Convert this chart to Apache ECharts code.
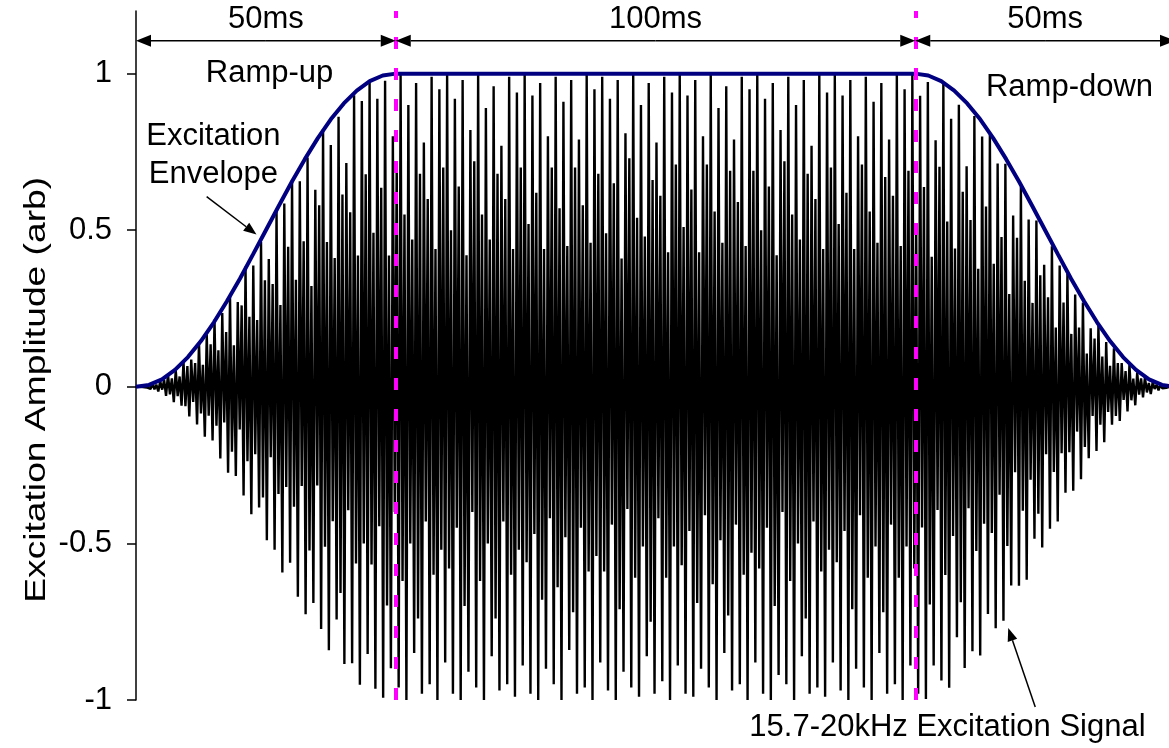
<!DOCTYPE html>
<html>
<head>
<meta charset="utf-8">
<title>Excitation signal</title>
<script src="https://cdn.jsdelivr.net/npm/echarts@6/dist/echarts.min.js"></script>
<style>
  html, body { margin: 0; padding: 0; background: #fff; }
  #main { width: 1169px; height: 748px; }
</style>
</head>
<body>
<div id="main"></div>
<script>
// time span edges (ms) and their labels
var spanEdges = [0, 50, 150, 200];
var spanLabels = ['50ms', '100ms', '50ms'];

// excitation envelope
var envTimes = [0, 2.5, 5, 7.5, 10, 12.5, 15, 17.5, 20, 22.5, 25, 27.5, 30, 32.5, 35, 37.5, 40, 42.5, 45, 47.5, 50,
  150, 152.5, 155, 157.5, 160, 162.5, 165, 167.5, 170, 172.5, 175, 177.5, 180, 182.5, 185, 187.5, 190, 192.5, 195, 197.5, 200];
var envValues = [0, 0.006, 0.024, 0.054, 0.095, 0.146, 0.206, 0.273, 0.345, 0.422, 0.5, 0.578, 0.655, 0.727, 0.794, 0.854, 0.905, 0.946, 0.976, 0.994, 1,
  1, 0.994, 0.976, 0.946, 0.905, 0.854, 0.794, 0.727, 0.655, 0.578, 0.5, 0.422, 0.345, 0.273, 0.206, 0.146, 0.095, 0.054, 0.024, 0.006, 0];

// excitation signal, 134 cycles over 200 ms, four samples each:
// high peak, the dip after it, the partial rise, low peak
var peakTop = [
  0.000, 0.003, 0.011, 0.018, 0.039, 0.053, 0.081, 0.087, 0.141, 0.168,
  0.214, 0.236, 0.289, 0.271, 0.384, 0.387, 0.462, 0.408, 0.565, 0.585,
  0.661, 0.656, 0.732, 0.629, 0.823, 0.772, 0.862, 0.715, 0.931, 0.913,
  0.977, 0.920, 0.977, 0.800,
  1.00, 0.90, 0.97, 0.78, 0.99, 0.95,
  1.00, 0.92, 0.98, 0.82, 1.00, 0.89, 0.96, 0.77, 0.99, 0.94,
  1.00, 0.93, 0.97, 0.80, 0.99, 0.91, 0.98, 0.79, 1.00, 0.95,
  0.99, 0.92, 0.98, 0.81, 1.00, 0.90, 0.97, 0.78, 0.99, 0.94,
  1.00, 0.93, 0.98, 0.80, 1.00, 0.89, 0.96, 0.79, 0.99, 0.95,
  1.00, 0.92, 0.97, 0.82, 0.99, 0.90, 0.98, 0.77, 1.00, 0.94,
  1.00, 0.93, 0.98, 0.80, 0.99, 0.91, 0.97, 0.79, 1.00, 0.95,
  1.00,
  0.929, 0.973, 0.787, 0.969, 0.856, 0.901, 0.704, 0.865, 0.799,
  0.805, 0.713, 0.712, 0.547, 0.639, 0.534, 0.531, 0.390, 0.449, 0.387,
  0.361, 0.295, 0.269, 0.187, 0.195, 0.143, 0.123, 0.076, 0.070, 0.046,
  0.031, 0.015, 0.007, 0.001
];
var midFall = [
  -0.000, -0.002, -0.008, -0.009, -0.024, -0.030, -0.062, -0.048, -0.085, -0.092,
  -0.124, -0.114, -0.207, -0.136, -0.238, -0.215, -0.353, -0.225, -0.342, -0.320,
  -0.383, -0.317, -0.523, -0.315, -0.511, -0.429, -0.658, -0.394, -0.564, -0.500,
  -0.567, -0.445, -0.698, -0.400,
  -0.62, -0.50, -0.74, -0.43, -0.60, -0.52,
  -0.58, -0.45, -0.70, -0.40, -0.62, -0.50, -0.74, -0.43, -0.60, -0.52,
  -0.56, -0.47, -0.68, -0.42, -0.64, -0.48, -0.72, -0.45, -0.59, -0.54,
  -0.59, -0.44, -0.71, -0.39, -0.61, -0.51, -0.75, -0.42, -0.61, -0.51,
  -0.57, -0.46, -0.69, -0.41, -0.63, -0.49, -0.73, -0.44, -0.60, -0.53,
  -0.58, -0.45, -0.70, -0.40, -0.62, -0.50, -0.74, -0.43, -0.59, -0.52,
  -0.56, -0.46, -0.71, -0.41, -0.61, -0.51, -0.72, -0.44, -0.61, -0.51,
  -0.58,
  -0.449, -0.695, -0.393, -0.601, -0.476, -0.688, -0.388, -0.524, -0.437,
  -0.467, -0.345, -0.508, -0.273, -0.396, -0.297, -0.405, -0.215, -0.272, -0.212,
  -0.209, -0.143, -0.192, -0.093, -0.121, -0.080, -0.093, -0.042, -0.043, -0.025,
  -0.018, -0.007, -0.005, -0.000
];
var midRise = [
  0.001, 0.004, 0.007, 0.022, 0.027, 0.033, 0.066, 0.076, 0.070, 0.136,
  0.117, 0.175, 0.133, 0.260, 0.224, 0.213, 0.340, 0.328, 0.261, 0.447,
  0.342, 0.465, 0.322, 0.580, 0.462, 0.411, 0.614, 0.557, 0.419, 0.679,
  0.492, 0.636, 0.419, 0.720,
  0.55, 0.47, 0.68, 0.60, 0.44, 0.70,
  0.50, 0.64, 0.42, 0.72, 0.55, 0.47, 0.68, 0.60, 0.44, 0.70,
  0.52, 0.62, 0.44, 0.70, 0.57, 0.45, 0.70, 0.58, 0.46, 0.68,
  0.49, 0.65, 0.41, 0.73, 0.54, 0.48, 0.66, 0.61, 0.43, 0.71,
  0.51, 0.63, 0.43, 0.71, 0.56, 0.46, 0.69, 0.59, 0.45, 0.69,
  0.50, 0.64, 0.42, 0.72, 0.55, 0.47, 0.68, 0.60, 0.44, 0.70,
  0.52, 0.62, 0.44, 0.71, 0.56, 0.46, 0.67, 0.61, 0.45, 0.69,
  0.50,
  0.638, 0.415, 0.703, 0.528, 0.442, 0.623, 0.533, 0.377, 0.576,
  0.393, 0.478, 0.296, 0.476, 0.339, 0.268, 0.356, 0.286, 0.189, 0.269,
  0.169, 0.189, 0.106, 0.154, 0.097, 0.067, 0.076, 0.050, 0.026, 0.027,
  0.012, 0.007, 0.001, 0.000
];
var peakBottom = [
  -0.001, -0.007, -0.015, -0.029, -0.049, -0.060, -0.095, -0.120, -0.159, -0.171,
  -0.229, -0.274, -0.285, -0.347, -0.407, -0.385, -0.490, -0.520, -0.593, -0.562,
  -0.670, -0.726, -0.690, -0.773, -0.841, -0.743, -0.885, -0.883, -0.951, -0.853,
  -0.964, -0.993, -0.899, -0.960,
  -1.00, -0.85, -0.98, -0.95, -1.00, -0.88,
  -0.98, -1.00, -0.91, -0.96, -1.00, -0.86, -0.97, -0.95, -0.99, -0.89,
  -0.98, -1.00, -0.90, -0.95, -1.00, -0.84, -0.98, -0.96, -1.00, -0.88,
  -0.97, -1.00, -0.91, -0.96, -0.99, -0.86, -0.98, -0.94, -1.00, -0.89,
  -0.98, -0.99, -0.90, -0.96, -1.00, -0.85, -0.97, -0.95, -1.00, -0.88,
  -0.98, -1.00, -0.92, -0.95, -1.00, -0.86, -0.98, -0.96, -0.99, -0.88,
  -0.97, -1.00, -0.90, -0.96, -1.00, -0.85, -0.98, -0.95, -1.00, -0.89,
  -0.98,
  -0.997, -0.890, -0.938, -0.961, -0.800, -0.898, -0.844, -0.858, -0.725,
  -0.771, -0.747, -0.634, -0.635, -0.616, -0.485, -0.513, -0.453, -0.430, -0.338,
  -0.332, -0.295, -0.228, -0.205, -0.177, -0.121, -0.109, -0.079, -0.059, -0.034,
  -0.023, -0.011, -0.003, -0.000
];

var yTicks = [-1, -0.5, 0, 0.5, 1];

var FONT = 'Liberation Sans, Arial, sans-serif';

var step = 200 / peakTop.length;
var signal = [[0, 0]];
for (var k = 0; k < peakTop.length; k++) {
  signal.push([(k + 0.125) * step, peakTop[k]]);
  signal.push([(k + 0.375) * step, midFall[k]]);
  signal.push([(k + 0.625) * step, midRise[k]]);
  signal.push([(k + 0.875) * step, peakBottom[k]]);
}
signal.push([200, 0]);

var envelope = envTimes.map(function (t, i) { return [t, envValues[i]]; });

var myChart = echarts.init(document.getElementById('main'));
var option = {
  animation: false,
  backgroundColor: '#fff',
  // the time axis runs a few px past the right edge of the picture
  grid: { left: 136, top: 11, width: 1039, bottom: 48, outerBoundsMode: 'none', containLabel: false },
  xAxis: {
    type: 'value',
    min: 0, max: 200,
    axisLine: { onZero: true, lineStyle: { color: '#000', width: 1.5 } },
    axisTick: { show: false },
    axisLabel: { show: false },
    splitLine: { show: false }
  },
  yAxis: {
    type: 'value',
    min: -1, max: 1.2, interval: 0.5,
    axisLine: { show: true, lineStyle: { color: '#000', width: 1.5 } },
    axisTick: { show: true, length: 9, customValues: yTicks, lineStyle: { color: '#000', width: 1.5 } },
    axisLabel: { customValues: yTicks, color: '#000', fontSize: 31, fontFamily: FONT, margin: 24 },
    splitLine: { show: false }
  },
  series: [
    {
      type: 'line',
      data: signal,
      symbol: 'none',
      lineStyle: { color: '#000', width: 2.4 },
      z: 2
    },
    {
      type: 'line',
      data: envelope,
      symbol: 'none',
      lineStyle: { color: '#000080', width: 4 },
      z: 3,
      markLine: {
        silent: true,
        symbol: ['none', 'none'],
        lineStyle: { color: '#ff00ff', width: 4, type: [12, 19] },
        label: { show: false },
        data: [{ xAxis: spanEdges[1] }, { xAxis: spanEdges[2] }]
      }
    }
  ]
};
myChart.setOption(option);

function px(p) { return myChart.convertToPixel({ gridIndex: 0 }, p); }

// arrow from a to b (data coords), filled head at b
function arrow(a, b, hl, hw) {
  var p = px(a), q = px(b);
  var dx = q[0] - p[0], dy = q[1] - p[1], L = Math.sqrt(dx * dx + dy * dy);
  var ux = dx / L, uy = dy / L;
  var bx = q[0] - ux * hl, by = q[1] - uy * hl;
  return [
    { type: 'line', z: 10, shape: { x1: p[0], y1: p[1], x2: bx, y2: by }, style: { stroke: '#000', lineWidth: 1.5 } },
    { type: 'polygon', z: 10, shape: { points: [[q[0], q[1]], [bx - uy * hw, by + ux * hw], [bx + uy * hw, by - ux * hw]] }, style: { fill: '#000' } }
  ];
}

function note(text, t, v, size) {
  var p = px([t, v]);
  return {
    type: 'text', x: p[0], y: p[1], z: 10,
    style: { text: text, fill: '#000', font: size + 'px ' + FONT, align: 'center', verticalAlign: 'middle' }
  };
}

var spanY = 1.105;
var graphics = [];
for (var i = 0; i < spanLabels.length; i++) {
  var a = spanEdges[i], b = spanEdges[i + 1], m = (a + b) / 2;
  graphics = graphics.concat(arrow([m, spanY], [a, spanY], 15, 6), arrow([m, spanY], [b, spanY], 15, 6));
  graphics.push(note(spanLabels[i], m, 1.172, 31));
}

graphics = graphics.concat(
  arrow([13.6, 0.607], [23.2, 0.486], 13, 5),
  arrow([173.1, -1.022], [167.9, -0.77], 13, 5)
);

graphics.push(note('Ramp-up', 25.7, 1.0, 31));
graphics.push(note('Ramp-down', 179.7, 0.955, 31));
graphics.push(note('Excitation', 14.9, 0.799, 31));
graphics.push(note('Envelope', 14.9, 0.677, 31));
graphics.push(note('15.7-20kHz Excitation Signal', 156.2, -1.089, 31));

var mid = px([0, 0]);
graphics.push({
  type: 'text', x: 37, y: mid[1] + 3, rotation: Math.PI / 2, scaleX: 1.24, z: 10,
  style: { text: 'Excitation Amplitude (arb)', fill: '#000', font: '30px ' + FONT, align: 'center', verticalAlign: 'middle' }
});
myChart.setOption({ graphic: graphics });
</script>
</body>
</html>
